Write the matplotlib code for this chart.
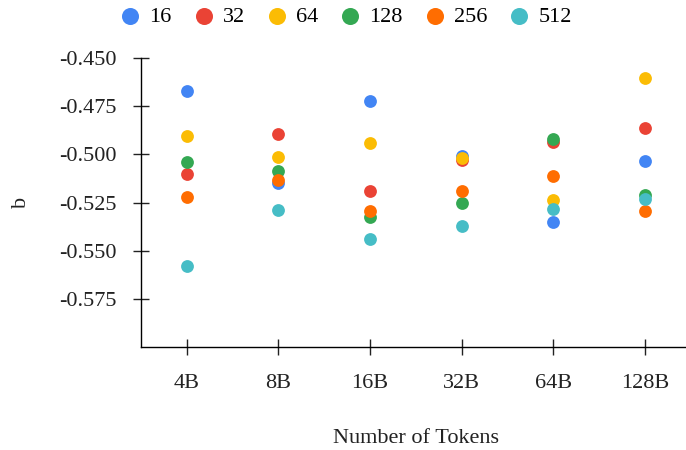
import numpy as np
import matplotlib.pyplot as plt

plt.rcParams['font.family'] = ['Liberation Serif', 'DejaVu Serif']

# x categories and series (b per batch size)
tokens = ['4B', '8B', '16B', '32B', '64B', '128B']
series_names = ['16', '32', '64', '128', '256', '512']
colors = ['#4285F4', '#EA4335', '#FBBC04', '#34A853', '#FF6D01', '#46BDC6']

b_16 = [-0.4672, -0.5150, -0.4722, -0.5009, -0.5352, -0.5036]
b_32 = [-0.5100, -0.4892, -0.5189, -0.5031, -0.4934, -0.4865]
b_64 = [-0.4905, -0.5016, -0.4943, -0.5019, -0.5236, -0.4601]
b_128 = [-0.5040, -0.5087, -0.5326, -0.5253, -0.4922, -0.5212]
b_256 = [-0.5220, -0.5132, -0.5295, -0.5189, -0.5111, -0.5292]
b_512 = [-0.5578, -0.5288, -0.5439, -0.5370, -0.5283, -0.5231]

all_b = [b_16, b_32, b_64, b_128, b_256, b_512]

fig = plt.figure(figsize=(6.86, 4.5), dpi=100)
ax = fig.add_axes([0.2055, 0.229, 0.8017, 0.642])

x = np.arange(len(tokens))
for name, vals, c in zip(series_names, all_b, colors):
    ax.scatter(x, vals, s=85, color=c, label=name, linewidths=0, zorder=3)

ax.set_xlim(-0.5, 5.5)
ax.set_ylim(-0.6, -0.45)
ax.set_xticks(x)
ax.set_xticklabels(tokens)
ax.set_yticks([-0.45, -0.475, -0.5, -0.525, -0.55, -0.575])
ax.set_yticklabels(['-0.450', '-0.475', '-0.500', '-0.525', '-0.550', '-0.575'])

for side in ['top', 'right']:
    ax.spines[side].set_visible(False)
ax.spines['left'].set_linewidth(1.0)
ax.spines['bottom'].set_linewidth(1.0)
ax.tick_params(direction='inout', length=11, width=1.0, labelsize=16, colors='#222222')
ax.tick_params(axis='x', pad=14)
ax.tick_params(axis='y', pad=12)

ax.set_xlabel('Number of Tokens', fontsize=16, labelpad=26, color='#222222')
ax.set_ylabel('b', fontsize=16, labelpad=20, color='#222222')

fig.legend(loc='upper center', bbox_to_anchor=(0.505, 1.03), ncol=6, frameon=False,
           fontsize=16, handlelength=0.8, handletextpad=0.46, columnspacing=1.04,
           markerscale=1.33)

fig.savefig('out.png', dpi=100)
